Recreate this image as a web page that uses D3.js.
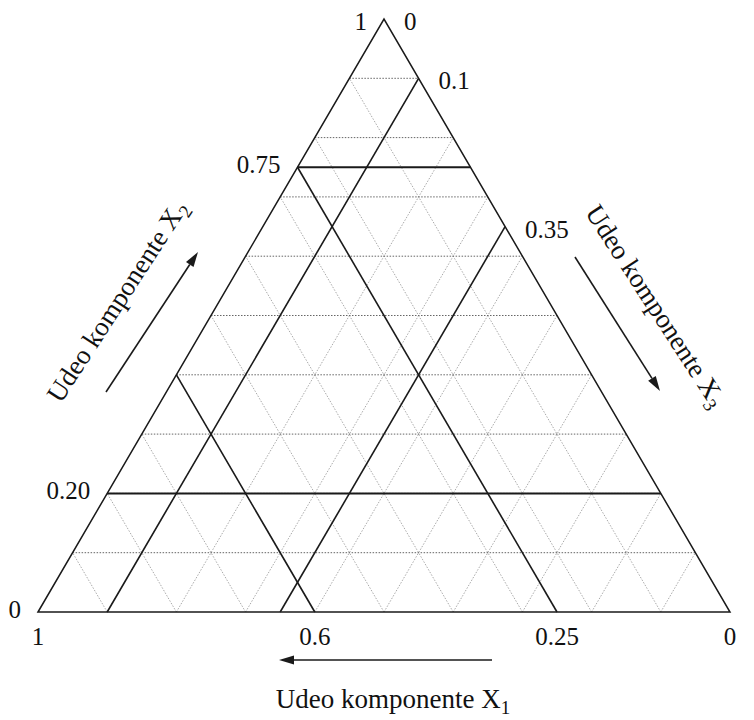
<!DOCTYPE html>
<html>
<head>
<meta charset="utf-8">
<script src="https://cdn.jsdelivr.net/npm/d3@7"></script>
<style>
  html, body { margin: 0; padding: 0; background: #fff; }
  svg { display: block; }
  text { font-family: "Liberation Serif", "Times New Roman", serif; fill: #111; }
</style>
</head>
<body>
<svg id="chart" width="754" height="720"></svg>
<script>
// Ternary diagram of the mixture region: X1 at lower-left, X2 at top, X3 at lower-right.
const gridLevels = [0.1, 0.2, 0.3, 0.4, 0.5, 0.6, 0.7, 0.8, 0.9];

// Bounds on each component (solid lines)
const x1Bounds = [0.6, 0.25];
const x2Bounds = [0.20, 0.75];
const x3Bounds = [0.1, 0.35];

// Tick labels on each side
const x2TickValues = [1, 0.75, 0.20, 0];
const x2TickLabels = ["1", "0.75", "0.20", "0"];
const x3TickValues = [0, 0.1, 0.35];
const x3TickLabels = ["0", "0.1", "0.35"];
const x1TickValues = [1, 0.6, 0.25, 0];
const x1TickLabels = ["1", "0.6", "0.25", "0"];

const axisTitle = "Udeo komponente X";
const axisSubs = ["1", "2", "3"];

const svg = d3.select("#chart");

// Horizontal coordinate u = x3 + x2/2, vertical coordinate v = x2
const xs = d3.scaleLinear().domain([0, 1]).range([38, 730]);
const ys = d3.scaleLinear().domain([0, 1]).range([612, 19]);
const proj = (a, b, c) => [xs(c + b / 2), ys(b)];

// Segment end-points for a constant-value line of component k
function isoLine(k, c) {
  if (k === 1) return [proj(c, 0, 1 - c), proj(c, 1 - c, 0)];
  if (k === 2) return [proj(1 - c, c, 0), proj(0, c, 1 - c)];
  return [proj(1 - c, 0, c), proj(0, 1 - c, c)];
}

const line = d3.line();

// Dotted grid
const gridG = svg.append("g");
[1, 3].forEach(k => {
  gridG.selectAll(null).data(gridLevels).join("path")
    .attr("d", c => line(isoLine(k, c)))
    .attr("fill", "none")
    .attr("stroke", "#aaa")
    .attr("stroke-width", 1)
    .attr("stroke-dasharray", "1.5,1.5");
});
gridG.selectAll(null).data(gridLevels).join("path")
  .attr("d", c => line(isoLine(2, c)))
  .attr("fill", "none")
  .attr("stroke", "#666")
  .attr("stroke-width", 1)
  .attr("stroke-dasharray", "1.5,1.5");

// Triangle outline
svg.append("path")
  .attr("d", line([proj(1, 0, 0), proj(0, 1, 0), proj(0, 0, 1)]) + "Z")
  .attr("fill", "none")
  .attr("stroke", "#1a1a1a")
  .attr("stroke-width", 1.5)
  .attr("stroke-linejoin", "miter");

// Component bounds
const boundG = svg.append("g");
[[1, x1Bounds], [2, x2Bounds], [3, x3Bounds]].forEach(([k, arr]) => {
  boundG.selectAll(null).data(arr).join("path")
    .attr("d", c => line(isoLine(k, c)))
    .attr("fill", "none")
    .attr("stroke", "#1a1a1a")
    .attr("stroke-width", k === 2 ? 2 : 1.6);
});

// Tick labels
const tickSize = 25;
const labG = svg.append("g").attr("font-size", tickSize);
labG.selectAll(null).data(x2TickValues).join("text")
  .attr("x", (v) => proj(1 - v, v, 0)[0] - 17)
  .attr("y", (v) => proj(1 - v, v, 0)[1] + (v === 1 ? 11 : 6))
  .attr("text-anchor", "end")
  .text((v, i) => x2TickLabels[i]);
labG.selectAll(null).data(x3TickValues).join("text")
  .attr("x", (v) => proj(0, 1 - v, v)[0] + 20)
  .attr("y", (v) => proj(0, 1 - v, v)[1] + 11)
  .attr("text-anchor", "start")
  .text((v, i) => x3TickLabels[i]);
labG.selectAll(null).data(x1TickValues).join("text")
  .attr("x", (v) => proj(v, 0, 1 - v)[0])
  .attr("y", (v) => proj(v, 0, 1 - v)[1] + 33)
  .attr("text-anchor", "middle")
  .text((v, i) => x1TickLabels[i]);

// Axis titles with subscripts
function title(g, sub) {
  const t = g.append("text").attr("font-size", 27).attr("text-anchor", "middle");
  t.append("tspan").text(axisTitle);
  t.append("tspan").attr("font-size", 19).attr("dy", 6).text(sub);
  return t;
}
title(svg.append("g").attr("transform", "translate(393,708)"), axisSubs[0]);
title(svg.append("g").attr("transform", "translate(117,301) rotate(-57)"), axisSubs[1]).attr("y", 9);
title(svg.append("g").attr("transform", "translate(656,306) rotate(57)"), axisSubs[2]).attr("y", 9);

// Direction arrows
const arrows = [
  [[492, 660], [279, 660]],
  [[106, 392], [198, 252]],
  [[575, 257], [660, 391]]
];
arrows.forEach(([p0, p1]) => {
  const ang = Math.atan2(p1[1] - p0[1], p1[0] - p0[0]);
  const L = 15, W = 4.5;
  const bx = p1[0] - L * Math.cos(ang), by = p1[1] - L * Math.sin(ang);
  svg.append("line")
    .attr("x1", p0[0]).attr("y1", p0[1]).attr("x2", bx).attr("y2", by)
    .attr("stroke", "#1a1a1a").attr("stroke-width", 1.6);
  svg.append("path")
    .attr("d", line([
      p1,
      [bx + W * Math.sin(ang), by - W * Math.cos(ang)],
      [bx - W * Math.sin(ang), by + W * Math.cos(ang)]
    ]) + "Z")
    .attr("fill", "#1a1a1a");
});
</script>
</body>
</html>
